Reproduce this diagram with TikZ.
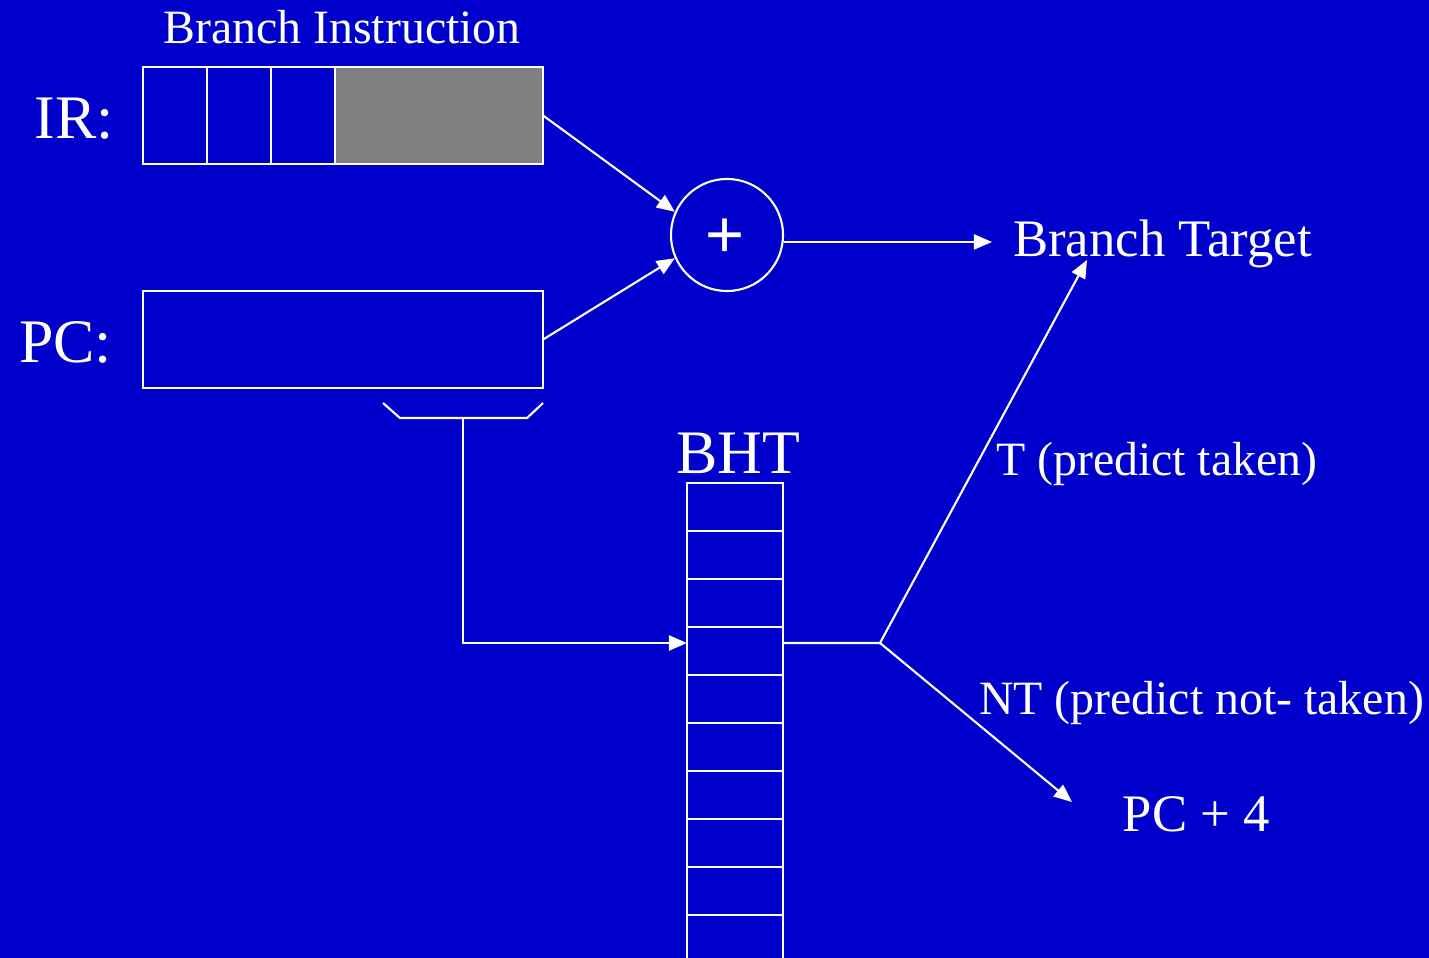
\documentclass[tikz,border=0pt]{standalone}
\usepackage{fontspec}
\setmainfont{Liberation Serif}
\newfontfamily\plusfont{Liberation Sans}
\usetikzlibrary{arrows.meta,positioning}
\definecolor{slideblue}{RGB}{0,0,204}
\definecolor{immgray}{RGB}{128,128,128}

\begin{document}
\begin{tikzpicture}[
    x=0.01cm, y=-0.01cm,
    white, line width=0.6pt,
    field/.style={draw, minimum width=0.64cm, minimum height=0.97cm, inner sep=0pt, outer sep=0pt},
    reg/.style={draw, minimum width=4cm, minimum height=0.97cm, inner sep=0pt, outer sep=0pt},
    cell/.style={draw, minimum width=0.96cm, minimum height=0.48cm, inner sep=0pt, outer sep=0pt},
    lbl/.style={inner sep=0pt, anchor=base},
    big/.style={lbl, font=\fontsize{17.6}{20}\selectfont},
    mid/.style={lbl, font=\fontsize{15}{18}\selectfont},
    small/.style={lbl, font=\fontsize{13.6}{16}\selectfont},
    arrow/.style={-{Triangle[length=0.18cm, width=0.15cm]}}
]
\fill[slideblue] (0,0) rectangle (1429,958);
\useasboundingbox (0,0) rectangle (1429,958);

\node[small] (brinst) at (342,44) {Branch Instruction};
\node[big] (irlab) at (74,139) {IR:};
\node[field] (f1) at (175,115.5) {};
\node[field] (f2) at (239,115.5) {};
\node[field] (f3) at (303,115.5) {};
\node[field, fill=immgray, minimum width=2.08cm] (imm) at (439,115.5) {};

\node[big] (pclab) at (65.5,363) {PC:};
\node[reg] (pc) at (343,339.5) {};

\node[draw, circle, minimum size=1.12cm, inner sep=0pt] (add) at (727,235) {};
\node[inner sep=0pt, font=\plusfont\fontsize{19}{20}\selectfont] (plus) at (725,238) {+};
\node[mid, anchor=base west] (bt) at (1012,257) {Branch Target};

\draw[arrow] (imm.east) -- (add.156);
\draw[arrow] (pc.east) -- (add.204);
\draw[arrow, shorten >=0.2cm] (add.-7) -- (add.-7 -| bt.west);

\draw ([xshift=-1.6cm, yshift=-0.15cm]pc.south east) -- ++(17,15) -- ++(127,0) -- ++(16,-15);
\coordinate (idx) at (463,418);

\foreach \i in {0,...,9}
  \node[cell] (bht\i) at (735,507+48*\i) {};
\node[big] (bhtlab) at (738,474) {BHT};

\draw[arrow] (idx) |- ([yshift=0.08cm]bht3.west);

\coordinate (fork) at (880,643);
\coordinate (taken) at (1087,260);
\coordinate (nottaken) at (1072,802);
\draw ([yshift=0.08cm]bht3.east) -- (fork);
\draw[arrow] (fork) -- (taken);
\draw[arrow] (fork) -- (nottaken);

\node[small, anchor=base west] (tlab) at (995,476) {T (predict taken)};
\node[small, anchor=base west] (ntlab) at (978,715) {NT (predict not- taken)};
\node[mid] (pc4) at (1196.5,832) {PC + 4};
\end{tikzpicture}
\end{document}
